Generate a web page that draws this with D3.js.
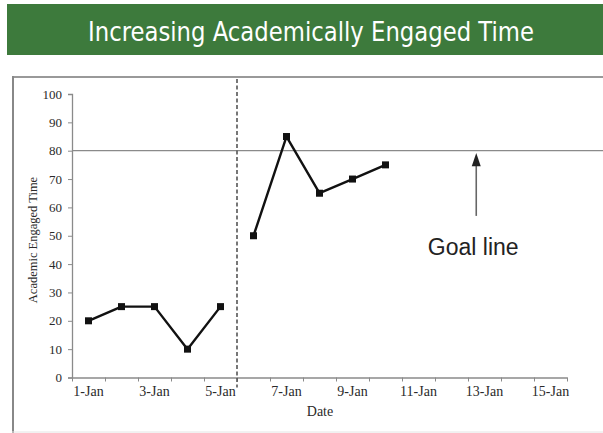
<!DOCTYPE html>
<html>
<head>
<meta charset="utf-8">
<script src="https://cdn.jsdelivr.net/npm/d3@7"></script>
<style>
  body { margin: 0; background: #fff; }
  svg { display: block; }
</style>
</head>
<body>
<div id="chart"></div>
<script>
// data
var dates = ["1-Jan","2-Jan","3-Jan","4-Jan","5-Jan","6-Jan","7-Jan","8-Jan",
             "9-Jan","10-Jan","11-Jan","12-Jan","13-Jan","14-Jan","15-Jan"];
var baselineDates = ["1-Jan","2-Jan","3-Jan","4-Jan","5-Jan"];
var baselineValues = [20, 25, 25, 10, 25];
var interventionDates = ["6-Jan","7-Jan","8-Jan","9-Jan","10-Jan"];
var interventionValues = [50, 85, 65, 70, 75];
var xTickLabels = ["1-Jan","3-Jan","5-Jan","7-Jan","9-Jan","11-Jan","13-Jan","15-Jan"];
var yTicks = [0,10,20,30,40,50,60,70,80,90,100];
var goal = 80;
var phaseChangeAfter = 5; // number of baseline days

var width = 603, height = 433;
var serif = '"Liberation Serif", "Times New Roman", serif';

var svg = d3.select('#chart').append('svg')
  .attr('width', width)
  .attr('height', height);

// title banner
svg.append('rect')
  .attr('x', 7).attr('y', 4)
  .attr('width', width - 7).attr('height', 51)
  .attr('fill', '#3d7a3c');
svg.append('text')
  .attr('x', 88).attr('y', 41)
  .attr('textLength', 446)
  .attr('lengthAdjust', 'spacingAndGlyphs')
  .attr('fill', '#fff')
  .style('font-family', '"DejaVu Sans Condensed", "Liberation Sans Narrow", sans-serif')
  .style('font-stretch', 'condensed')
  .style('font-size', '27px')
  .text('Increasing Academically Engaged Time');

// frame
svg.append('line').attr('x1', 12).attr('x2', width).attr('y1', 77).attr('y2', 77)
  .attr('stroke', '#999').attr('stroke-width', 2);
svg.append('line').attr('x1', 13).attr('x2', 13).attr('y1', 76).attr('y2', height)
  .attr('stroke', '#888').attr('stroke-width', 2);
svg.append('line').attr('x1', 12).attr('x2', width).attr('y1', 432).attr('y2', 432)
  .attr('stroke', '#e4e4e4').attr('stroke-width', 1);

// scales
var x = d3.scaleBand().domain(dates).range([72, 567]);
var xEdge = d3.scaleLinear().domain([0, dates.length]).range([72, 567]);
var y = d3.scaleLinear().domain([0, 100]).range([377.5, 94]);

// y axis
var yAxis = svg.append('g')
  .attr('transform', 'translate(72,0)')
  .call(d3.axisLeft(y).tickValues(yTicks).tickSize(4).tickPadding(6));
yAxis.select('.domain').attr('stroke', '#8a8a8a').attr('stroke-width', 1.3);
yAxis.selectAll('.tick line').attr('stroke', '#8a8a8a');
yAxis.selectAll('.tick text')
  .attr('fill', '#2a2a2a')
  .style('font-family', serif)
  .style('font-size', '13px');

// x axis: tick marks at category edges, labels at centres
var xTickAxis = svg.append('g')
  .attr('transform', 'translate(0,' + y(0) + ')')
  .call(d3.axisBottom(xEdge).ticks(dates.length).tickSizeInner(4).tickSizeOuter(0).tickFormat(''));
xTickAxis.select('.domain').attr('stroke', '#8a8a8a').attr('stroke-width', 1.3);
xTickAxis.selectAll('.tick line').attr('stroke', '#8a8a8a');

var xLabelAxis = svg.append('g')
  .attr('transform', 'translate(0,' + y(0) + ')')
  .call(d3.axisBottom(x).tickValues(xTickLabels).tickSize(0).tickPadding(9));
xLabelAxis.select('.domain').remove();
xLabelAxis.selectAll('.tick text')
  .attr('fill', '#2a2a2a')
  .style('font-family', serif)
  .style('font-size', '14px');

// axis titles
svg.append('text')
  .attr('x', 320).attr('y', 416)
  .attr('text-anchor', 'middle')
  .attr('fill', '#2a2a2a')
  .style('font-family', serif)
  .style('font-size', '14px')
  .text('Date');
svg.append('text')
  .attr('transform', 'translate(37,' + y(48.5) + ') rotate(-90)')
  .attr('text-anchor', 'middle')
  .attr('fill', '#2a2a2a')
  .style('font-family', serif)
  .style('font-size', '12.5px')
  .text('Academic Engaged Time');

// goal line
svg.append('line')
  .attr('x1', 72).attr('x2', width)
  .attr('y1', y(goal)).attr('y2', y(goal))
  .attr('stroke', '#8a8a8a').attr('stroke-width', 1.2);

// phase change line
svg.append('line')
  .attr('x1', xEdge(phaseChangeAfter)).attr('x2', xEdge(phaseChangeAfter))
  .attr('y1', 79).attr('y2', y(0) + 10)
  .attr('stroke', '#555').attr('stroke-width', 1.6)
  .attr('stroke-dasharray', '4,2.5');

// series
var line = d3.line()
  .x(function(d) { return x(d.date) + x.bandwidth() / 2; })
  .y(function(d) { return y(d.value); });

function drawSeries(ds, vs) {
  var pts = ds.map(function(d, i) { return {date: d, value: vs[i]}; });
  svg.append('path')
    .datum(pts)
    .attr('d', line)
    .attr('fill', 'none')
    .attr('stroke', '#111')
    .attr('stroke-width', 2.4)
    .attr('stroke-linejoin', 'round');
  svg.selectAll(null)
    .data(pts)
    .enter()
    .append('rect')
    .attr('x', function(d) { return x(d.date) + x.bandwidth() / 2 - 3.5; })
    .attr('y', function(d) { return y(d.value) - 3.5; })
    .attr('width', 7).attr('height', 7)
    .attr('fill', '#111');
}
drawSeries(baselineDates, baselineValues);
drawSeries(interventionDates, interventionValues);

// goal line annotation
var ax = xEdge(12.25);
svg.append('line')
  .attr('x1', ax).attr('x2', ax)
  .attr('y1', y(57)).attr('y2', y(75))
  .attr('stroke', '#666').attr('stroke-width', 1.6);
svg.append('path')
  .attr('d', 'M' + ax + ',' + y(79.2) + 'L' + (ax - 4.5) + ',' + y(74.5) + 'L' + (ax + 4.5) + ',' + y(74.5) + 'Z')
  .attr('fill', '#222');
svg.append('text')
  .attr('x', ax - 3).attr('y', y(43.1))
  .attr('text-anchor', 'middle')
  .attr('fill', '#222')
  .style('font-family', '"Liberation Sans", Arial, sans-serif')
  .style('font-size', '23px')
  .text('Goal line');
</script>
</body>
</html>
